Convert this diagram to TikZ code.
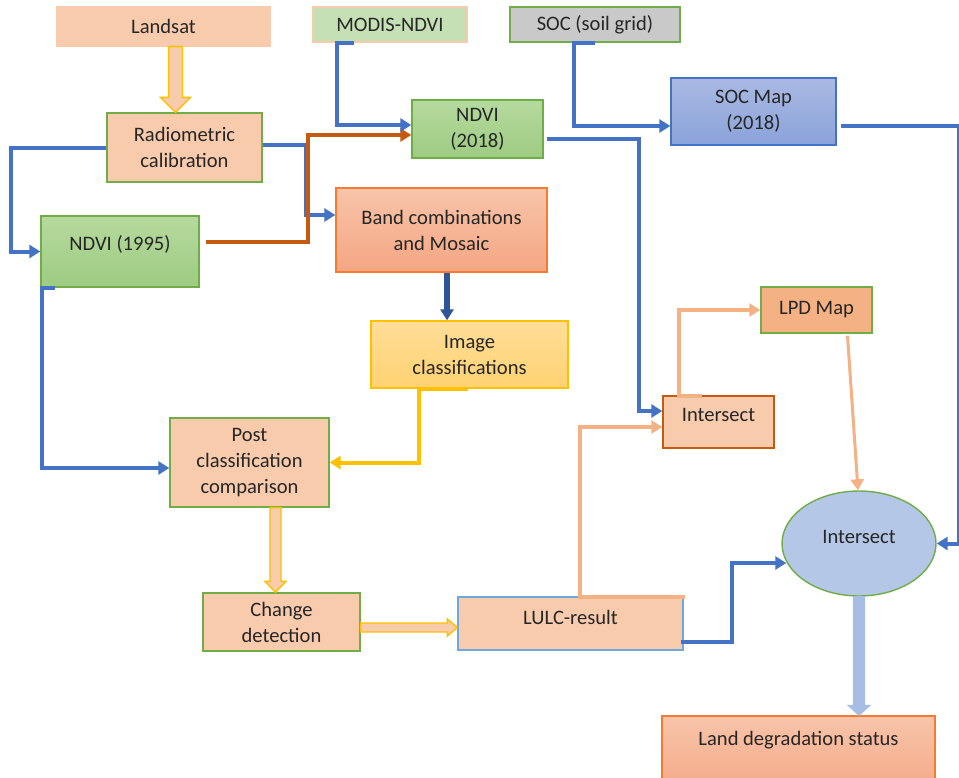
\documentclass[tikz,border=0pt]{standalone}
\usepackage{fontspec}
\setmainfont{Carlito}
\usetikzlibrary{arrows.meta,calc,shapes.geometric}

\definecolor{txt}{HTML}{262626}
\definecolor{peach}{HTML}{F8CBAD}
\definecolor{modisg}{HTML}{C5E0B4}
\definecolor{grn}{HTML}{70AD47}
\definecolor{socgray}{HTML}{C9C9C9}
\definecolor{ndvitop}{HTML}{B5DA9E}
\definecolor{ndvibot}{HTML}{9ECB82}
\definecolor{soctop}{HTML}{AAB9E3}
\definecolor{socbot}{HTML}{8AA3DA}
\definecolor{bandtop}{HTML}{F8C4A9}
\definecolor{bandbot}{HTML}{F4A683}
\definecolor{bandedge}{HTML}{F47B30}
\definecolor{imgtop}{HTML}{FFDE98}
\definecolor{imgbot}{HTML}{FFD272}
\definecolor{gold}{HTML}{FFC000}
\definecolor{lpdfill}{HTML}{F4B183}
\definecolor{brown}{HTML}{C55A11}
\definecolor{ellfill}{HTML}{B4C7E7}
\definecolor{lulcedge}{HTML}{6FA8DC}
\definecolor{lblue}{HTML}{4472C4}
\definecolor{dblue}{HTML}{2F5597}
\definecolor{arrblue}{HTML}{A8BDE4}

% block arrows: style, start, end node, shaft half, head half, head length
\newcommand{\downblock}[6]{%
  \coordinate (ba) at (#2);
  \coordinate (bb) at (ba |- #3);
  \filldraw[#1] ($(ba)+(-#4,0)$) -- ($(ba)+(#4,0)$) -- ($(bb)+(#4,-#6)$) -- ($(bb)+(#5,-#6)$) -- (bb)
    -- ($(bb)+(-#5,-#6)$) -- ($(bb)+(-#4,-#6)$) -- cycle;}
\newcommand{\rightblock}[6]{%
  \coordinate (ba) at (#2);
  \coordinate (bb) at (ba -| #3);
  \filldraw[#1] ($(ba)+(0,-#4)$) -- ($(bb)+(-#6,-#4)$) -- ($(bb)+(-#6,-#5)$) -- (bb)
    -- ($(bb)+(-#6,#5)$) -- ($(bb)+(-#6,#4)$) -- ($(ba)+(0,#4)$) -- cycle;}

\begin{document}
\begin{tikzpicture}[x=0.02cm, y=-0.02cm, font=\fontsize{11.7}{14.8}\selectfont, text=txt,
    box/.style={draw, rectangle, line width=0.8pt, align=center, inner sep=1pt},
    bline/.style={->, draw=lblue, line width=0.08cm},
    dbline/.style={->, draw=dblue, line width=0.11cm},
    oline/.style={->, draw=brown, line width=0.08cm},
    yline/.style={->, draw=gold, line width=0.08cm},
    pline/.style={->, draw=lpdfill, line width=0.08cm},
    blockpeach/.style={fill=peach, draw=gold, line width=0.8pt},
    blockblue/.style={fill=arrblue, draw=arrblue, line width=0.6pt},
    >={Triangle[length=0.22cm,width=0.26cm]}]
  \path[use as bounding box, fill=white] (0,0) rectangle (959,777);
  \clip (0,0) rectangle (959,777);

  % sources
  \node[box, fill=peach, draw=peach, minimum width=4.26cm, minimum height=0.78cm] (landsat) at (163.5,26.5) {Landsat};
  \node[box, fill=modisg, draw=peach, minimum width=3.08cm, minimum height=0.7cm] (modis) at (390,24.5) {MODIS-NDVI};
  \node[box, fill=socgray, draw=grn, minimum width=3.4cm, minimum height=0.7cm] (socgrid) at (595,24.5) {SOC (soil grid)};

  \node[box, fill=peach, draw=grn, minimum width=3.1cm, minimum height=1.38cm] (radio) at (184.5,147.5) {Radiometric\\calibration};
  \node[box, top color=ndvitop, bottom color=ndvibot, draw=grn, minimum width=2.62cm, minimum height=1.16cm] (ndvi18) at (477.5,129) {NDVI\\(2018)};
  \node[box, top color=soctop, bottom color=socbot, draw=lblue, minimum width=3.3cm, minimum height=1.34cm] (socmap) at (753.5,111.5) {SOC Map\\(2018)};
  \node[box, top color=ndvitop, bottom color=ndvibot, draw=grn, minimum width=3.16cm, minimum height=1.42cm, text height=0.31cm, text depth=0.34cm] (ndvi95) at (120,251.5) {NDVI (1995)};
  \node[box, top color=bandtop, bottom color=bandbot, draw=bandedge, minimum width=4.22cm, minimum height=1.68cm] (band) at (441.5,230) {Band combinations\\and Mosaic};
  \node[box, top color=imgtop, bottom color=imgbot, draw=gold, minimum width=3.94cm, minimum height=1.34cm] (imgcls) at (469.5,354.5) {Image\\classifications};
  \node[box, fill=peach, draw=grn, minimum width=3.18cm, minimum height=1.78cm] (post) at (249.5,462.5) {Post\\classification\\comparison};
  \node[box, fill=peach, draw=grn, minimum width=3.14cm, minimum height=1.16cm] (change) at (281.5,622) {Change\\detection};
  \node[box, fill=peach, draw=lulcedge, minimum width=4.5cm, minimum height=1.06cm, text height=0.29cm, text depth=0.24cm] (lulc) at (570.5,623.5) {LULC-result};
  \node[box, fill=peach, draw=brown, minimum width=2.22cm, minimum height=1.04cm, text height=0.25cm, text depth=0.28cm] (isect) at (718.5,422) {Intersect};
  \node[box, fill=lpdfill, draw=grn, minimum width=2.22cm, minimum height=0.92cm] (lpd) at (816.5,310) {LPD Map};
  \node[draw=grn, ellipse, line width=0.8pt, fill=ellfill, inner sep=0pt, minimum width=3.08cm, minimum height=2.1cm, text height=0.27cm, text depth=0.27cm] (ellipse) at (859,543.5) {Intersect};
  \node[box, top color=bandtop, bottom color=bandbot, draw=bandedge, minimum width=5.46cm, minimum height=1.68cm, text height=0.28cm, text depth=0.8cm] (land) at (798.5,758) {Land degradation status};

  % block arrows
  \downblock{blockpeach}{$(landsat.south)+(12,0)$}{radio.north}{7}{15}{15}
  \downblock{blockpeach}{$(post.south)+(26,0)$}{change.north}{5.5}{10.5}{11}
  \rightblock{blockpeach}{$(change.east)+(0,5.5)$}{lulc.west}{4.5}{8.5}{10}
  \downblock{blockblue}{ellipse.south}{land.north}{5.5}{11}{10}

  % connectors
  \draw[bline] (radio.west) -- ++(-95,0) |- (ndvi95.west);
  \draw[bline] ($(radio.east)+(0,-2.5)$) -- ++(43,0) |- ($(band.west)+(0,-15)$);
  \draw[oline] ($(ndvi95.east)+(6,-9.5)$) -- ++(102,0) |- ($(ndvi18.west)+(0,6)$);
  \draw[bline] ($(modis.south)+(-36,0)$) -- ++(-17,0) |- ($(ndvi18.west)+(0,-4)$);
  \draw[bline] (socgrid.south) -- ++(-21,0) |- ($(socmap.west)+(0,14.5)$);
  \draw[bline] ($(ndvi18.east)+(3,10)$) -- ++(92,0) |- ($(isect.west)+(0,-11)$);
  \draw[bline] ($(socmap.east)+(4,14.5)$) -- ++(118,0) |- (ellipse.east);
  \draw[dbline] ($(band.south)+(5.5,0)$) coordinate (bs) -- (bs |- imgcls.north);
  \draw[yline] ($(imgcls.south)+(-2,0)$) -- ++(-49,0) |- (post.east);
  \draw[bline] ($(ndvi95.south)+(-65,0)$) -- ++(-13,0) |- ($(post.west)+(0,5.5)$);
  \draw[pline] ($(lulc.north)+(114.5,1)$) -- ++(-105,0) |- ($(isect.west)+(0,5)$);
  \draw[pline] ($(isect.north)+(-16.5,1)$) -- ++(-23,0) |- (lpd.west);
  \draw[pline, line width=0.06cm] ($(lpd.south)+(31,2)$) -- ($(ellipse.north)+(-1,0)$);
  \draw[bline] ($(lulc.east)+(-3,18)$) -- ++(51,0) |- ($(ellipse.west)+(5,19.5)$);
\end{tikzpicture}
\end{document}
